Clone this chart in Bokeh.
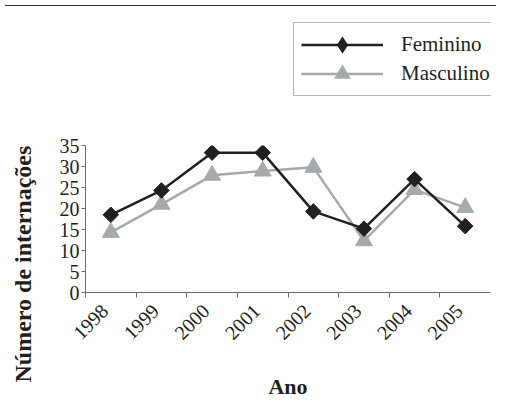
import numpy as np
from bokeh.plotting import figure
from bokeh.models import (ColumnDataSource, Range1d, FixedTicker, Legend, LegendItem,
                          Title, Div)
from bokeh.layouts import column, row
from bokeh.embed import file_html
from bokeh.resources import INLINE

years = ["1998", "1999", "2000", "2001", "2002", "2003", "2004", "2005"]
feminino = [18.5, 24.3, 33.3, 33.3, 19.3, 15.2, 27, 15.8]
masculino = [14.3, 21, 27.9, 28.9, 29.8, 12.3, 24.5, 20.2]
y_ticks = [0, 5, 10, 15, 20, 25, 30, 35]

FONT = "Liberation Serif"
DARK = "#231f20"
GRAY = "#a7a9ac"
AXIS = "#6d6e71"

W = 491
H0 = 123
H1 = 266


def blank(fig):
    fig.outline_line_color = None
    fig.xgrid.visible = False
    fig.ygrid.visible = False


# ---- top rule ----
top = Div(text="", width=W, height=2,
          styles={"border-top": "1.5px solid #333", "box-sizing": "border-box"})

# ---- legend strip ----
p0 = figure(width=W, height=H0, output_backend="svg", toolbar_location=None,
            x_range=Range1d(0, 1), y_range=Range1d(0, 1),
            min_border_left=292, min_border_top=9, min_border_right=0,
            min_border_bottom=0, x_axis_type=None, y_axis_type=None)
blank(p0)
dlf = p0.line([-5, -4], [-5, -4], line_color=DARK, line_width=2.5)
dsf = p0.scatter([-5], [-5], marker="diamond", size=11, line_width=3,
                 line_join="miter", fill_color=DARK, line_color=DARK)
dlm = p0.line([-5, -4], [-5, -4], line_color=GRAY, line_width=2.5)
dsm = p0.scatter([-5], [-5], marker="triangle", size=17, line_width=3,
                 line_join="miter", fill_color=GRAY, line_color=GRAY)
legend = Legend(items=[LegendItem(label="Feminino", renderers=[dlf, dsf]),
                       LegendItem(label="Masculino", renderers=[dlm, dsm])],
                location="top_left", orientation="vertical",
                glyph_width=82, glyph_height=29, label_height=29, spacing=0,
                padding=7, margin=1, label_standoff=18, label_width=88,
                label_text_font=FONT, label_text_font_size="21px",
                label_text_color=DARK, border_line_color=AXIS,
                border_line_width=1.2, background_fill_color="white",
                background_fill_alpha=1)
p0.add_layout(legend, "center")

# ---- main chart ----
xpos = [i + 0.5 for i in range(len(years))]
lpos = [i + 0.38 for i in range(len(years))]
src = ColumnDataSource(dict(x=xpos, f=feminino, m=masculino))

p = figure(width=W, height=H1, output_backend="svg", toolbar_location=None,
           x_range=Range1d(0, len(years)), y_range=Range1d(0, 35),
           min_border_left=74, min_border_right=1, min_border_top=10,
           min_border_bottom=109)
blank(p)

lm = p.line("x", "m", source=src, line_color=GRAY, line_width=2.5)
sm = p.scatter("x", "m", source=src, marker="triangle", size=17,
               fill_color=GRAY, line_color=GRAY)
lf = p.line("x", "f", source=src, line_color=DARK, line_width=2.5)
sf = p.scatter("x", "f", source=src, marker="square", size=11, angle=np.pi / 4,
               fill_color=DARK, line_color=DARK)

ya = p.yaxis[0]
ya.ticker = FixedTicker(ticks=y_ticks, minor_ticks=[])
ya.major_label_text_font = FONT
ya.major_label_text_font_size = "20px"
ya.major_label_text_color = DARK
ya.axis_line_color = AXIS
ya.major_tick_line_color = AXIS
ya.major_tick_in = 0
ya.major_tick_out = 4
ya.major_label_standoff = 2
ya.axis_label = " "
ya.axis_label_text_font_size = "1px"
ya.axis_label_standoff = 10

xa = p.xaxis[0]
xa.ticker = FixedTicker(ticks=lpos, minor_ticks=list(range(len(years))))
xa.major_label_overrides = {x: y for x, y in zip(lpos, years)}
xa.major_label_orientation = np.pi / 4
xa.major_label_text_font = FONT
xa.major_label_text_font_size = "20px"
xa.major_label_text_color = DARK
xa.axis_line_color = AXIS
xa.major_tick_line_color = None
xa.major_tick_in = 0
xa.major_tick_out = 0
xa.minor_tick_line_color = AXIS
xa.minor_tick_in = 0
xa.minor_tick_out = 5
xa.major_label_standoff = 10
xa.axis_label = "Ano"
xa.axis_label_text_font = FONT
xa.axis_label_text_font_size = "22px"
xa.axis_label_text_font_style = "bold"
xa.axis_label_text_color = DARK
xa.axis_label_standoff = 25

p.add_layout(Title(text="Número de internações", align="left", offset=-90,
                   standoff=14, text_font=FONT, text_font_size="24px",
                   text_font_style="bold", text_color=DARK), "left")

layout = column(top, p0, row(p, spacing=0), spacing=0)
open("out.html", "w").write(file_html(layout, INLINE))
